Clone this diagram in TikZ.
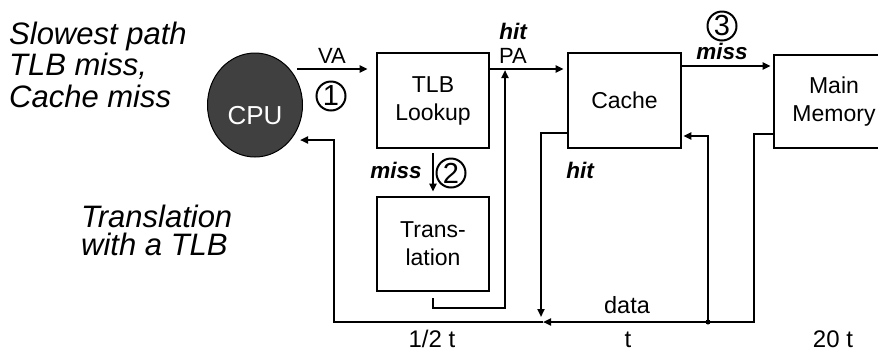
\documentclass[tikz,border=0pt]{standalone}
\usepackage{fontspec}
\setmainfont{Liberation Sans}
\usetikzlibrary{arrows.meta,shapes.geometric}
\definecolor{cpugray}{HTML}{404040}
\begin{document}
\begin{tikzpicture}[x=1pt,y=-1pt,
  box/.style={draw,line width=2.6pt,minimum width=112pt,minimum height=95pt,inner sep=0pt,align=center,font=\fontsize{23}{28}\selectfont},
  arr/.style={line width=2.2pt,-{Triangle[length=8pt,width=7pt]}},
  lbl/.style={inner sep=0pt,font=\fontsize{22}{22}\selectfont},
  bot/.style={inner sep=0pt,font=\fontsize{24}{24}\selectfont,anchor=base},
  bil/.style={inner sep=0pt,font=\fontsize{22.5}{22.5}\selectfont\bfseries\itshape,anchor=base},
  num/.style={circle,draw,line width=2pt,minimum size=29pt,inner sep=0pt,font=\fontsize{29}{29}\selectfont},
  big/.style={inner sep=0pt,font=\fontsize{31}{31}\selectfont\itshape,anchor=base west},
]
\useasboundingbox (0,0) rectangle (878,360);

% left texts
\node[big] (t1) at (9,44) {Slowest path};
\node[big] (t2) at (9,75) {TLB miss,};
\node[big] (t3) at (9,107) {Cache miss};
\node[big] (t4) at (81,227) {Translation};
\node[big] (t5) at (81,255) {with a TLB};

% nodes
\node[draw,ellipse,fill=cpugray,line width=1pt,minimum width=95pt,minimum height=104pt,inner sep=0pt] (cpu) at (255,105) {};
\node[font=\fontsize{26}{26}\selectfont,text=white,inner sep=0pt] (cputxt) at (255,116) {CPU};
\node[box] (tlb) at (433,100.5) {TLB\\Lookup};
\node[box,minimum height=94pt] (trans) at (433,244) {Trans-\\lation};
\node[box,minimum width=113pt] (cache) at (624.5,100.5) {Cache};
\node[box,minimum width=120pt,minimum height=93pt] (mem) at (834,101.5) {Main\\Memory};

% coordinates
\coordinate (vaS) at (297,69);
\coordinate (paJ) at (505,69);
\coordinate (bJ) at (543,322);
\coordinate (dotJ) at (708,322);
\coordinate (cpuIn) at (300,140);

% connectors
\draw[arr,shorten >=8pt] (vaS) -- (tlb.west |- vaS);
\draw[arr,shorten >=3pt] (tlb.east |- vaS) -- (cache.west |- vaS);
\draw[arr,shorten >=1pt] ([yshift=-6pt]trans.south) -- ++(0,10) -| (paJ);
\draw[arr,shorten <=4pt,shorten >=4pt] (tlb.south) -- (trans.north);
\draw[arr,shorten >=2pt] (cache.east |- 0,66) -- (mem.west |- 0,66);
\draw[arr] (mem.west |- 0,134) -| (754,322) -- (bJ);
\fill (dotJ) circle (2.5);
\draw[arr,shorten >=1pt] (dotJ) |- (cache.east |- 0,136);
\draw[arr] (cache.west |- 0,133) -| (541,317);
\draw[arr] (bJ) -| (334,140) -- (cpuIn);

% labels
\node[lbl,anchor=base] (va) at (332,63) {VA};
\node[lbl,anchor=base] (pa) at (513,63) {PA};
\node[bil] (hit1) at (513,39) {hit};
\node[num] (n1) at (331,96) {1};
\node[num] (n2) at (451,173) {2};
\node[num] (n3) at (722,26) {3};
\node[bil] (miss1) at (396,178) {miss};
\node[bil] (hit2) at (580,178) {hit};
\node[bil] (miss2) at (722,59) {miss};
\node[inner sep=0pt,font=\fontsize{23.5}{23.5}\selectfont,anchor=base] (data) at (627,313) {data};
\node[bot] (b1) at (432,347) {1/2 t};
\node[bot] (b2) at (628,347) {t};
\node[bot] (b3) at (833,347) {20 t};
\end{tikzpicture}
\end{document}
